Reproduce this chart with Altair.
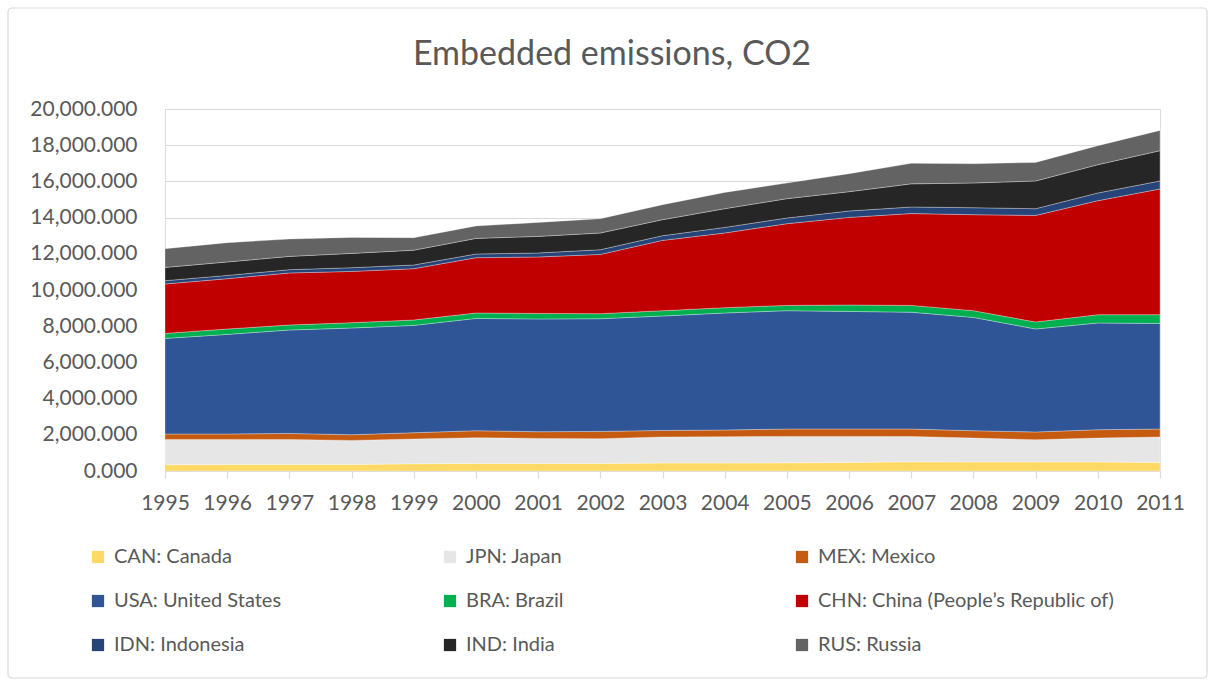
import altair as alt
import pandas as pd

# Embedded CO2 emissions by partner economy, stacked by year
years = list(range(1995, 2012))

countries = [
    "CAN: Canada",
    "JPN: Japan",
    "MEX: Mexico",
    "USA: United States",
    "BRA: Brazil",
    "CHN: China (People’s Republic of)",
    "IDN: Indonesia",
    "IND: India",
    "RUS: Russia",
]
colors = ["#FFD966", "#E7E6E6", "#C55A11", "#2F5597", "#00B050",
          "#C00000", "#264478", "#262626", "#636363"]

can = [348, 365, 365, 365, 403, 420, 420, 420, 442, 442, 450, 475, 505, 497, 497, 497, 475]
jpn = [1398, 1381, 1381, 1326, 1365, 1420, 1381, 1365, 1437, 1453, 1462, 1437, 1400, 1326, 1232, 1326, 1404]
mex = [298, 298, 331, 315, 348, 387, 370, 403, 364, 370, 408, 408, 415, 404, 426, 459, 441]
usa = [5283, 5503, 5713, 5895, 5929, 6204, 6227, 6227, 6321, 6465, 6537, 6498, 6454, 6259, 5691, 5895, 5835]
bra = [275, 299, 277, 293, 298, 299, 309, 276, 293, 292, 292, 354, 375, 371, 386, 459, 481]
chn = [2730, 2779, 2873, 2834, 2834, 3055, 3117, 3276, 3884, 4128, 4514, 4840, 5075, 5304, 5890, 6298, 6945]
idn = [182, 182, 182, 204, 205, 204, 221, 260, 259, 309, 315, 353, 362, 386, 370, 426, 442]
ind = [735, 740, 735, 791, 818, 862, 917, 923, 884, 1033, 1067, 1066, 1279, 1365, 1531, 1563, 1674]
rus = [1033, 1067, 961, 883, 690, 685, 773, 790, 829, 901, 867, 995, 1135, 1066, 1027, 1050, 1121]

series = [can, jpn, mex, usa, bra, chn, idn, ind, rus]

rows = []
for i, (name, vals) in enumerate(zip(countries, series)):
    for yr, v in zip(years, vals):
        rows.append({"year": yr, "country": name, "value": v, "rank": i})
df = pd.DataFrame(rows)

title_text = "Embedded emissions, CO2"

FONT = "Lato"
TEXT = "#595959"
GRID = "#D9D9D9"

areas = alt.Chart(df).mark_area(
    stroke="white", strokeWidth=0.6, strokeOpacity=0.5
).encode(
    x=alt.X(
        "year:Q",
        scale=alt.Scale(domain=[1995, 2011], nice=False, zero=False),
        axis=alt.Axis(
            values=years, format="d", title=None, grid=False,
            domainColor=GRID, domainWidth=1.2, tickColor=GRID, tickSize=7, tickWidth=1.2,
            labelPadding=14, labelFontSize=21, labelColor=TEXT, labelFont=FONT,
            labelFlush=False, labelOverlap=False,
        ),
    ),
    y=alt.Y(
        "value:Q",
        stack="zero",
        scale=alt.Scale(domain=[0, 20000], nice=False),
        axis=alt.Axis(
            values=list(range(0, 20001, 2000)), format=",.3f", title=None,
            domain=False, ticks=False, gridColor=GRID, gridWidth=1.2,
            labelPadding=28, labelFontSize=21, labelColor=TEXT, labelFont=FONT,
        ),
    ),
    color=alt.Color(
        "country:N",
        scale=alt.Scale(domain=countries, range=colors),
        legend=alt.Legend(
            title=None, orient="none", legendX=-77, legendY=438,
            direction="horizontal", columns=3, gridAlign="all",
            columnPadding=30, rowPadding=24, padding=0,
            symbolType="square", symbolSize=150, symbolStrokeWidth=0,
            labelFontSize=20, labelColor=TEXT, labelFont=FONT,
            labelOffset=6, labelLimit=600,
        ),
    ),
    order=alt.Order("rank:Q", sort="ascending"),
)

# thin outer frame around the whole chart
frame = alt.Chart(pd.DataFrame({"k": [0]})).mark_rect(
    fill=None, stroke=GRID, strokeWidth=1.2, cornerRadius=4
).encode(
    x=alt.value(-157), x2=alt.value(1042),
    y=alt.value(-101), y2=alt.value(569),
)

# chart heading, centred over the frame
heading = alt.Chart(pd.DataFrame({"t": [title_text]})).mark_text(
    font=FONT, fontSize=34, color=TEXT, align="center", baseline="middle"
).encode(
    text="t:N", x=alt.value(447), y=alt.value(-54),
)

chart = alt.layer(frame, areas, heading).properties(
    width=995,
    height=362,
    padding={"left": 165, "top": 109, "right": 55, "bottom": 215},
    autosize=alt.AutoSizeParams(type="none"),
).configure_view(stroke=None).configure(background="white")

chart.save("out.html", embed_options={"renderer": "svg", "actions": False})
